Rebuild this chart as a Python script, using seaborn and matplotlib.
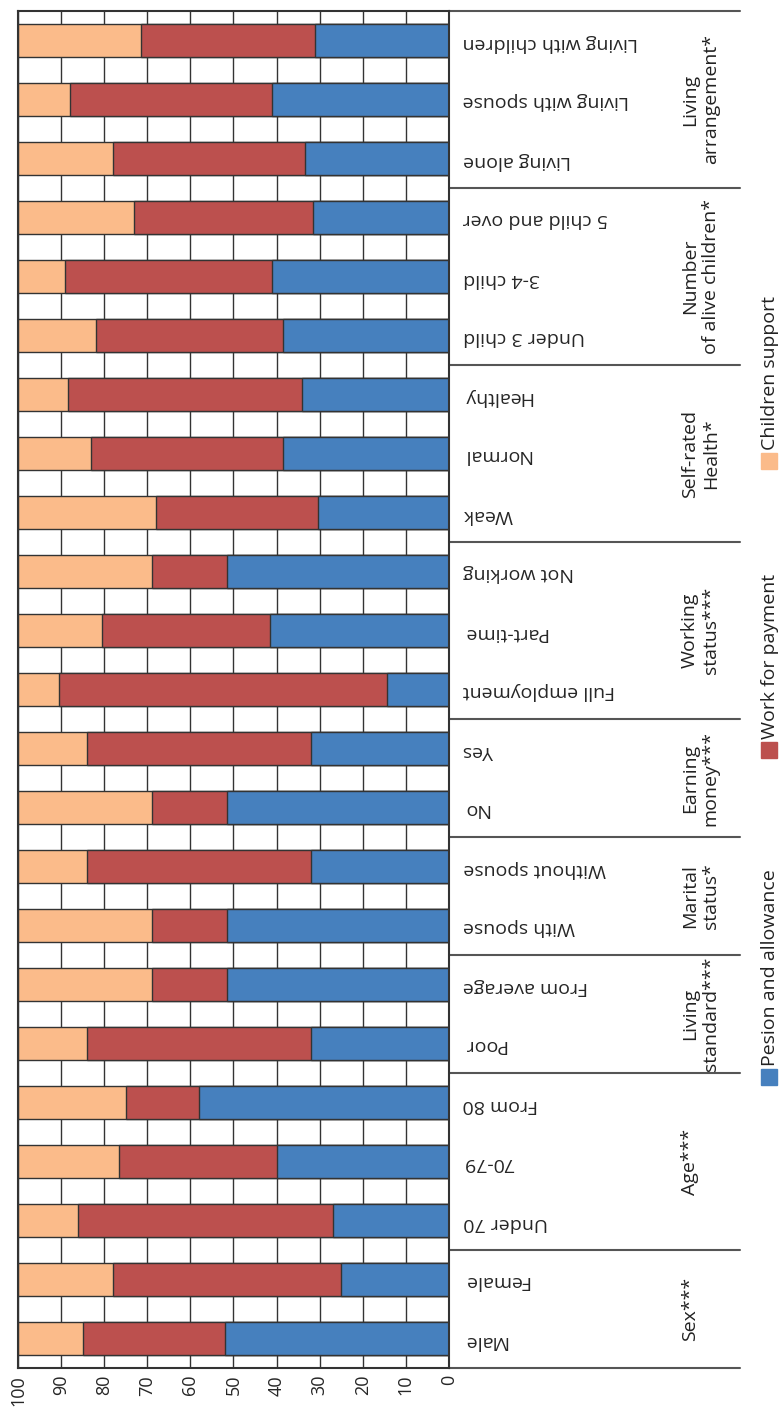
import numpy as np
import pandas as pd
import seaborn as sns
import matplotlib.pyplot as plt
from matplotlib.patches import Rectangle

# categories from bottom (Male) to top (Living with children)
categories = ["Male", "Female", "Under 70", "70-79", "From 80", "Poor", "From average",
              "With spouse", "Without spouse", "No", "Yes", "Full employment", "Part-time",
              "Not working", "Weak", "Normal", "Healthy", "Under 3 child", "3-4 child",
              "5 child and over", "Living alone", "Living with spouse", "Living with children"]
pension = [52, 25, 27, 40, 58, 32, 51.5, 51.5, 32, 51.5, 32, 14.5, 41.5, 51.5, 30.5, 38.5,
           34, 38.5, 41, 31.5, 33.5, 41, 31]
work = [33, 53, 59, 36.5, 17, 52, 17.5, 17.5, 52, 17.5, 52, 76, 39, 17.5, 37.5, 44.5,
        54.5, 43.5, 48, 41.5, 44.5, 47, 40.5]
children = [15, 22, 14, 23.5, 25, 16, 31, 31, 16, 31, 16, 9.5, 19.5, 31, 32, 17,
            11.5, 18, 11, 27, 22, 12, 28.5]

groups = ["Sex***", "Age***", "Living\nstandard***", "Marital\nstatus*", "Earning\nmoney***",
          "Working\nstatus***", "Self-rated\nHealth*", "Number\nof alive children*",
          "Living\narrangement*"]
group_sizes = [2, 3, 2, 2, 2, 3, 3, 3, 3]

legend_labels = ["Pesion and allowance", "Work for payment", "Children support"]
colors = ["#4680be", "#bc504e", "#fbbb8a"]

sns.set_style("white")
plt.rcParams["font.family"] = ["Open Sans", "DejaVu Sans"]

W, H = 782, 1411

df = pd.DataFrame({"category": categories, "pension": pension, "work": work, "children": children})
df["cum_work"] = df["pension"] + df["work"]
df["cum_children"] = df["cum_work"] + df["children"]

order = categories[::-1]  # first one drawn at the top

fig = plt.figure(figsize=(W / 100, H / 100), dpi=100)
ax = fig.add_axes([18 / W, 1 - 1368 / H, (449 - 18) / W, (1368 - 11) / H])

# stacked bars: draw the totals first, then overlay the smaller cumulative sums
for col, c in [("cum_children", colors[2]), ("cum_work", colors[1]), ("pension", colors[0])]:
    sns.barplot(data=df, x=col, y="category", order=order, orient="h", color=c,
                saturation=1, width=0.575, edgecolor="#333333", linewidth=1,
                errorbar=None, ax=ax)

ax.set_xlim(100, 0)
ax.set_ylim(22.5, -0.5)
ax.set_xticks(range(0, 101, 10))
ax.set_xlabel("")
ax.set_ylabel("")
ax.grid(axis="x", color="#333333", linewidth=1)
ax.set_axisbelow(True)

ax.yaxis.tick_right()
ax.tick_params(axis="y", length=0, pad=10, labelsize=14, labelrotation=180)
ax.tick_params(axis="x", length=0, pad=5, labelsize=13, labelrotation=90)
for s in ax.spines.values():
    s.set_color("#333333")
    s.set_linewidth(1.5)

# group separators and labels on the right
tr = ax.get_yaxis_transform()
x_end = (740 - 18) / (449 - 18)
x_lab = (681 - 18) / (449 - 18)
start = 22.5
ax.plot([1, x_end], [start, start], transform=tr, color="#555555", lw=1.5, clip_on=False)
for label, n in zip(groups, group_sizes):
    end = start - n
    ax.plot([1, x_end], [end, end], transform=tr, color="#555555", lw=1.5, clip_on=False)
    ax.text(x_lab, (start + end) / 2, label, transform=tr, rotation=90, ha="left",
            va="center", multialignment="center", fontsize=14, color="#222222")
    start = end

# legend drawn by hand, rotated like the rest of the chart
sq_top = [1069, 742, 453]
for label, c, top in zip(legend_labels, colors, sq_top):
    fig.add_artist(Rectangle((761 / W, 1 - (top + 16) / H), 16 / W, 16 / H,
                             transform=fig.transFigure, color=c))
    fig.text(770 / W, 1 - (top - 3) / H, label, rotation=90, ha="center", va="bottom",
             fontsize=14, color="#222222")

plt.savefig("out.png", dpi=100)
